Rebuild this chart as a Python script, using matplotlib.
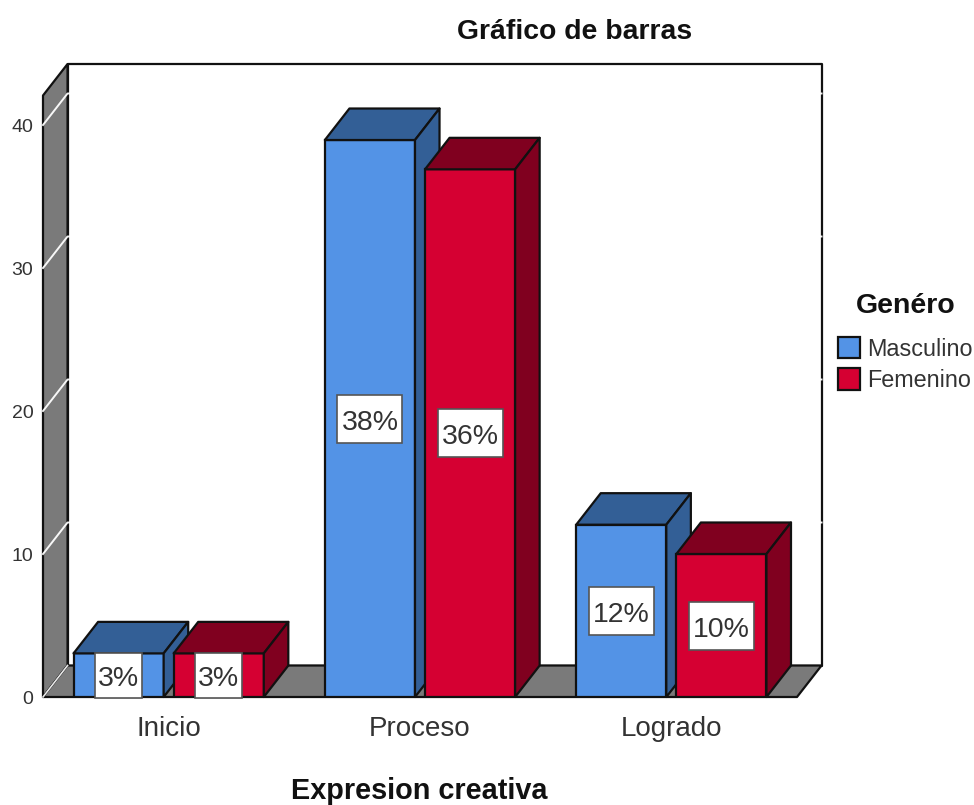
import matplotlib
matplotlib.use("Agg")
import matplotlib.pyplot as plt
from matplotlib.patches import Polygon, Patch, Rectangle

plt.rcParams['font.family'] = ['Liberation Sans', 'DejaVu Sans']

categories = ['Inicio', 'Proceso', 'Logrado']
masculino = [3.05, 38.95, 12.05]
femenino = [3.05, 36.9, 10.0]
labels_m = ['3%', '38%', '12%']
labels_f = ['3%', '36%', '10%']
yticks = [0, 10, 20, 30, 40]
series_names = ['Masculino', 'Femenino']

W, H = 974, 805
BLUE, BLUE_D = '#5393E6', '#335F96'
RED, RED_D = '#D50032', '#80001F'
GREY = '#7A7A7A'
TXT = '#333333'

fig = plt.figure(figsize=(W / 100, H / 100), dpi=100)
L, R, B, T = 43, 797, 697, 64
ax = fig.add_axes([L / W, 1 - B / H, (R - L) / W, (B - T) / H])
ax.set_xlim(-0.5, 2.5)
ymax = (B - T) / 14.3
ax.set_ylim(0, ymax)
for s in ax.spines.values():
    s.set_visible(False)
ax.patch.set_alpha(0)

dx = 24.5 / 251
dy = 31.5 / 14.3
ytop = ymax - dy
kw = dict(clip_on=False, linewidth=1.6, edgecolor='#111111', joinstyle='round')

# back wall, left wall and floor
ax.add_patch(Polygon([(-0.5 + dx, dy), (-0.5 + dx, ymax), (2.5 + dx, ymax), (2.5 + dx, dy)],
                     closed=True, facecolor='white', **kw))
ax.add_patch(Polygon([(-0.5, 0), (-0.5 + dx, dy), (-0.5 + dx, ymax), (-0.5, ytop)],
                     closed=True, facecolor=GREY, **kw))
ax.add_patch(Polygon([(-0.5, 0), (-0.5 + dx, dy), (2.5 + dx, dy), (2.5, 0)],
                     closed=True, facecolor=GREY, **kw))
# white gridlines: visible on the grey wall, and as notches in the back border
for t in yticks[1:]:
    ax.plot([-0.5, -0.5 + dx, 2.5 + dx], [t, t + dy, t + dy], color='white',
            lw=1.4, clip_on=False, zorder=2.5, alpha=0.95)
ax.plot([-0.5, -0.5 + dx], [0, dy], color='#E8E8E8', lw=1.2, clip_on=False, zorder=2.5)

bw = 90 / 251
off = 50 / 251


def bar3d(x, v, face, dark, z):
    ax.bar(x, v, width=bw, color=face, edgecolor='#111111', linewidth=1.6, zorder=z)
    x0, x1 = x - bw / 2, x + bw / 2
    ax.add_patch(Polygon([(x0, v), (x0 + dx, v + dy), (x1 + dx, v + dy), (x1, v)],
                         closed=True, facecolor=dark, zorder=z, **kw))
    ax.add_patch(Polygon([(x1, 0), (x1 + dx, dy), (x1 + dx, v + dy), (x1, v)],
                         closed=True, facecolor=dark, zorder=z, **kw))


def label(x, v, s):
    w = (47 if len(s) == 2 else 65) / 251
    h = min(48 / 14.3, v + 0.07)
    cy = v / 2
    ax.add_patch(Rectangle((x - w / 2, cy - h / 2), w, h, facecolor='white',
                           edgecolor='#555555', linewidth=1.2, zorder=20, clip_on=False))
    ax.text(x, cy - 0.3, s, ha='center', va='center', fontsize=20.5, color=TXT, zorder=21)


for i in range(len(categories)):
    bar3d(i - off, masculino[i], BLUE, BLUE_D, 3 + i * 2)
    bar3d(i + off, femenino[i], RED, RED_D, 4 + i * 2)

for i in range(len(categories)):
    label(i - off, masculino[i], labels_m[i])
    label(i + off, femenino[i], labels_f[i])

ax.set_xticks(range(len(categories)), categories)
ax.tick_params(axis='x', length=0, labelsize=20, labelcolor=TXT, pad=14)
ax.set_yticks(yticks)
ax.tick_params(axis='y', length=0, labelsize=14, labelcolor=TXT, pad=7)

fig.text(575 / W, 1 - 32 / H, 'Gráfico de barras', ha='center', va='center',
         fontsize=20.4, fontweight='bold', color='#111111')
fig.text(419 / W, 1 - 791 / H, 'Expresion creativa', ha='center', va='center',
         fontsize=20.8, fontweight='bold', color='#111111')

handles = [Patch(facecolor=BLUE, edgecolor='#111111', linewidth=1.6),
           Patch(facecolor=RED, edgecolor='#111111', linewidth=1.6)]
leg = fig.legend(handles, series_names, loc='upper left',
                 bbox_to_anchor=(838 / W, 1 - 293 / H), frameon=False, fontsize=16.8,
                 title='Genéro', title_fontproperties={'size': 20.5, 'weight': 'bold'},
                 handlelength=0.95, handleheight=1.02, handletextpad=0.3,
                 labelspacing=0.33, borderpad=0, borderaxespad=0, labelcolor=TXT)
leg.get_title().set_color('#111111')
leg._legend_box.sep = 13

fig.savefig('out.png', dpi=100)
